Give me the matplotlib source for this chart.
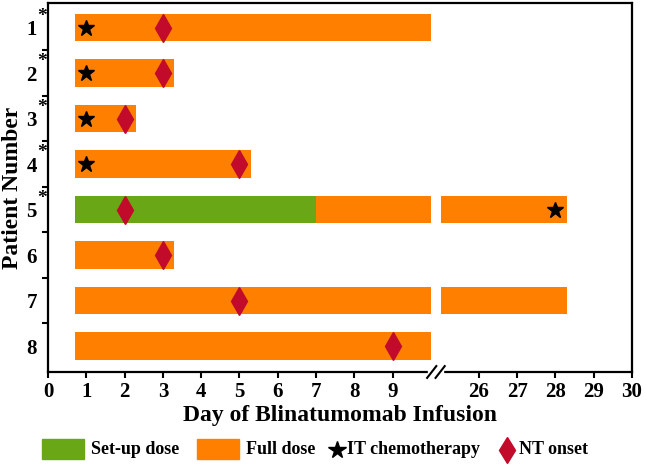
import numpy as np
import matplotlib
matplotlib.use('Agg')
import matplotlib.pyplot as plt
from matplotlib.patches import Rectangle
from matplotlib.lines import Line2D
from matplotlib.transforms import blended_transform_factory

plt.rcParams['font.family'] = 'Liberation Serif'
plt.rcParams['font.weight'] = 'bold'

# ---- data (days) ----
patients = [1, 2, 3, 4, 5, 6, 7, 8]
starred = [1, 2, 3, 4, 5]          # labels with asterisk
bar_start = [0.7, 0.7, 0.7, 0.7, 0.7, 0.7, 0.7, 0.7]
bar_end = [10, 3.3, 2.3, 5.3, 28.3, 3.3, 28.3, 10]
setup_end = [0, 0, 0, 0, 7, 0, 0, 0]    # set-up dose phase end (0 = none)
it_patient = [1, 2, 3, 4, 5]
it_day = [1, 1, 1, 1, 28]
nt_patient = [1, 2, 3, 4, 5, 6, 7, 8]
nt_day = [3, 3, 2, 5, 2, 3, 5, 9]
xtick_days = [0, 1, 2, 3, 4, 5, 6, 7, 8, 9, 26, 27, 28, 29, 30]

# broken axis: 0..10 shown, then 25..30
BREAK_LO, BREAK_HI, GAP = 10, 25, 0.25
def tx(d):
    d = np.asarray(d, dtype=float)
    return np.where(d > BREAK_LO, d - (BREAK_HI - BREAK_LO) + GAP, d)

GREEN = '#6aa716'
ORANGE = '#ff8000'
RED = '#c20a2a'
H = 0.6

fig = plt.figure(figsize=(6.47, 4.68), dpi=100)
ax = fig.add_axes([48/647, 1-372/468, 584/647, 369/468])

def seg(p, a, b, c):
    # split a segment over the break
    if b > BREAK_LO and a < BREAK_LO:
        seg(p, a, BREAK_LO, c)
        seg(p, BREAK_HI, b, c)
        return
    l, r = tx([a, b])
    ax.barh(p, r - l, left=l, height=H, color=c, edgecolor='none')

for p, s, e, su in zip(patients, bar_start, bar_end, setup_end):
    if su > 0:
        seg(p, s, su, GREEN)
        seg(p, su, e, ORANGE)
    else:
        seg(p, s, e, ORANGE)

ax.plot(tx(it_day), it_patient, ls='none', marker='*', ms=12, color='black', zorder=5)
ax.plot(tx(nt_day), nt_patient, ls='none', marker='d', ms=14, color=RED, zorder=5)

ax.set_xlim(0, float(tx(30)))
ax.set_ylim(8.57, 0.46)
ax.set_xticks(tx(xtick_days))
ax.set_xticklabels([str(d) for d in xtick_days], fontsize=15, fontweight='bold')
ax.set_yticks(patients)
ax.set_yticklabels([str(p) for p in patients], fontsize=15, fontweight='bold')
ax.set_yticks(np.arange(1.5, 8.5, 1), minor=True)
ax.tick_params(axis='y', which='major', length=0, pad=8)
ax.tick_params(axis='y', which='minor', length=4, width=1.5, direction='out')
ax.tick_params(axis='x', length=4, width=1.5, direction='out', pad=3)
for sp in ax.spines.values():
    sp.set_linewidth(1.6)

for p in starred:
    ax.annotate('*', xy=(0, p), xycoords=('axes fraction', 'data'), xytext=(-4.5, 8),
                textcoords='offset points', ha='center', va='center', fontsize=14,
                fontweight='bold', annotation_clip=False)

ax.set_xlabel('Day of Blinatumomab Infusion', fontsize=17, fontweight='bold', labelpad=2)
ax.set_ylabel('Patient Number', fontsize=17, fontweight='bold')
ax.yaxis.set_label_coords(-0.042, 0.5)

# break marks on x axis
tr = blended_transform_factory(ax.transData, ax.transAxes)
xb = float(tx(BREAK_LO)) + 0.12
ax.add_patch(Rectangle((xb - 0.2, -0.01), 0.4, 0.02, transform=tr, color='white',
                       clip_on=False, zorder=10))
for dx in (-0.1, 0.12):
    ax.plot([xb + dx - 0.12, xb + dx + 0.12], [-0.016, 0.016], transform=tr, color='black',
            lw=1.5, clip_on=False, zorder=11)

# legend (manual row)
ly = 1 - 450/468
fig.patches.append(Rectangle((42/647, 1-459/468), 42/647, 20/468, transform=fig.transFigure,
                             color=GREEN))
fig.text(91/647, ly, 'Set-up dose', fontsize=13, fontweight='bold', va='center')
fig.patches.append(Rectangle((197/647, 1-459/468), 42/647, 20/468, transform=fig.transFigure,
                             color=ORANGE))
fig.text(246/647, ly, 'Full dose', fontsize=13, fontweight='bold', va='center')
fig.lines.append(Line2D([337/647], [ly], transform=fig.transFigure, marker='*', ms=13,
                        color='black', ls='none'))
fig.text(347/647, ly, 'IT chemotherapy', fontsize=13, fontweight='bold', va='center')
fig.lines.append(Line2D([507/647], [ly], transform=fig.transFigure, marker='d', ms=13,
                        color=RED, ls='none'))
fig.text(519/647, ly, 'NT onset', fontsize=13, fontweight='bold', va='center')

fig.savefig('out.png', dpi=100)
